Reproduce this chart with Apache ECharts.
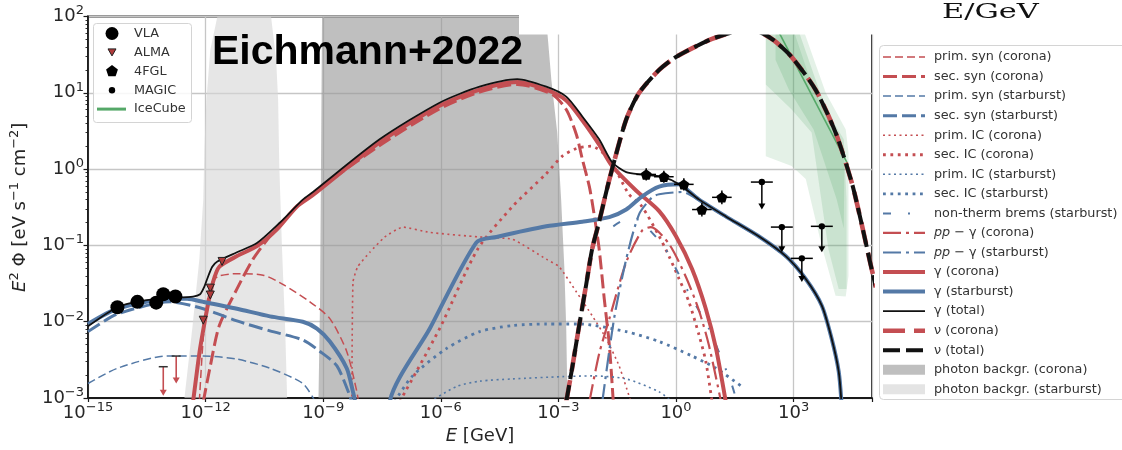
<!DOCTYPE html>
<html>
<head>
<meta charset="utf-8">
<script src="https://cdn.jsdelivr.net/npm/echarts@6/dist/echarts.min.js"></script>
<style>
  html, body { margin: 0; padding: 0; background: #fff; }
  #chart { width: 1122px; height: 450px; }
</style>
</head>
<body>
<div id="chart"></div>
<script>
// All curves are given as [log10(E / GeV), log10(E^2 Phi / eV s^-1 cm^-2)].

// --- corona ---
const primSynCorona = [[-12.16,-3.05],[-12.06,-2.22],[-11.93,-1.64],[-11.81,-1.46],[-11.65,-1.40],[-11.20,-1.37],[-10.53,-1.39],[-10.03,-1.51],[-9.34,-1.74],[-8.83,-1.96],[-8.40,-2.39],[-8.14,-2.92],[-8.10,-3.05]];
const secSynCorona = [[-12.06,-3.05],[-11.88,-2.58],[-11.65,-2.05],[-11.20,-1.57],[-10.79,-1.18],[-10.36,-0.88],[-9.92,-0.62],[-9.52,-0.42],[-7.56,0.31],[-6.03,0.79],[-5.01,1.01],[-4.05,1.11],[-3.16,0.98],[-2.80,0.78],[-2.54,0.45],[-2.39,0.13],[-2.21,-0.23],[-2.09,-0.59],[-1.96,-1.05],[-1.83,-1.70],[-1.70,-2.31],[-1.60,-3.05]];
const primICCorona = [[-8.27,-3.05],[-8.24,-1.48],[-8.12,-1.28],[-7.81,-1.09],[-7.43,-0.89],[-6.97,-0.76],[-6.28,-0.83],[-5.01,-0.89],[-4.17,-0.92],[-3.31,-1.18],[-2.98,-1.28],[-2.54,-1.61],[-2.14,-1.92],[-1.78,-2.22],[-1.45,-2.58],[-1.15,-3.05]];
const secICCorona = [[-7.05,-3.05],[-6.03,-2.09],[-5.06,-1.05],[-4.17,-0.49],[-3.31,-0.06],[-2.90,0.17],[-2.54,0.27],[-2.16,0.30],[-1.70,0.13],[-1.20,-0.33],[-0.87,-0.49],[-0.43,-0.88],[-0.18,-1.14],[0.08,-1.44],[0.33,-1.74],[0.59,-2.18],[0.76,-2.52],[0.92,-3.05]];
const ppGammaCorona = [[-2.21,-3.05],[-1.96,-2.42],[-1.70,-1.96],[-1.27,-1.22],[-0.87,-0.81],[-0.64,-0.76],[-0.18,-0.98],[0.25,-1.41],[0.59,-1.86],[0.84,-2.31],[1.15,-3.05]];
const gammaCorona = [[-12.32,-3.05],[-12.21,-2.61],[-12.14,-2.35],[-11.96,-1.83],[-11.81,-1.48],[-11.65,-1.28],[-11.20,-1.14],[-10.69,-1.01],[-10.18,-0.79],[-9.67,-0.49],[-9.26,-0.34],[-7.56,0.35],[-6.03,0.83],[-5.01,1.04],[-4.05,1.14],[-3.31,1.04],[-2.80,0.90],[-2.39,0.64],[-1.96,0.32],[-1.63,0.04],[-1.02,-0.28],[-0.43,-0.55],[0.00,-0.88],[0.41,-1.31],[0.76,-1.83],[1.02,-2.35],[1.27,-3.05]];
const nuCorona = [[-2.80,-3.05],[-2.65,-2.61],[-2.47,-2.05],[-2.29,-1.51],[-2.14,-1.05],[-1.96,-0.69],[-1.78,-0.30],[-1.63,0.00],[-1.27,0.65],[-0.94,1.00],[-0.43,1.30],[0.00,1.47],[0.84,1.69],[1.35,1.78],[1.73,1.82],[2.11,1.80],[2.49,1.69],[2.95,1.47],[3.56,1.04],[4.07,0.48],[4.48,-0.17],[4.71,-0.66],[4.96,-1.24],[5.10,-1.55]];

// --- starburst ---
const primSynStarburst = [[-15.00,-2.81],[-14.25,-2.61],[-12.98,-2.45],[-12.06,-2.45],[-11.20,-2.49],[-10.36,-2.61],[-9.52,-2.81],[-9.20,-3.05]];
const secSynStarburst = [[-15.00,-2.13],[-14.25,-1.90],[-12.90,-1.74],[-12.06,-1.83],[-11.20,-1.99],[-10.36,-2.12],[-9.52,-2.24],[-9.08,-2.39],[-8.65,-2.58],[-8.32,-2.97],[-8.28,-3.05]];
const primICStarburst = [[-6.28,-3.05],[-5.60,-2.85],[-5.01,-2.78],[-4.17,-2.75],[-2.90,-2.72],[-2.14,-2.71],[-1.27,-2.75],[-0.43,-2.92],[-0.10,-3.05]];
const secICStarburst = [[-7.18,-3.05],[-6.72,-2.71],[-5.85,-2.35],[-5.01,-2.13],[-4.17,-2.05],[-3.31,-2.03],[-2.47,-2.03],[-1.27,-2.13],[-0.43,-2.26],[0.41,-2.45],[1.02,-2.61],[1.68,-2.85]];
const bremsStarburst = [[-1.60,-0.75],[-1.27,-0.66],[-0.95,-0.66],[-0.69,-0.79],[-0.30,-1.02],[0.00,-1.31],[0.41,-1.70],[0.84,-2.09],[1.42,-2.82],[1.55,-3.05]];
const ppGammaStarburst = [[-1.88,-3.05],[-1.58,-1.96],[-1.27,-1.18],[-0.94,-0.59],[-0.61,-0.37],[-0.43,-0.33],[0.15,-0.30],[0.59,-0.41],[1.27,-0.63],[2.11,-0.89],[2.80,-1.15],[3.31,-1.45],[3.72,-1.80],[3.97,-2.23],[4.15,-2.66],[4.22,-3.05]];
const gammaStarburst = [[-15.00,-2.03],[-14.25,-1.83],[-12.90,-1.70],[-12.47,-1.70],[-12.06,-1.74],[-11.20,-1.83],[-10.36,-1.93],[-9.52,-2.00],[-9.16,-2.09],[-8.83,-2.26],[-8.40,-2.61],[-8.24,-2.92],[-8.19,-3.05],[-8.10,-4.50],[-7.40,-4.50],[-7.30,-3.05],[-6.28,-2.09],[-5.09,-0.96],[-4.58,-0.89],[-3.31,-0.75],[-2.39,-0.69],[-1.70,-0.63],[-1.27,-0.53],[-0.87,-0.36],[-0.43,-0.23],[0.08,-0.20],[0.33,-0.29],[0.59,-0.40],[1.27,-0.62],[2.11,-0.88],[2.80,-1.14],[3.31,-1.44],[3.72,-1.79],[3.97,-2.22],[4.15,-2.65],[4.22,-3.05]];

// --- totals ---
const gammaTotal = [[-15.00,-2.06],[-14.25,-1.81],[-13.66,-1.73],[-12.98,-1.69],[-12.32,-1.67],[-12.14,-1.64],[-12.04,-1.55],[-11.96,-1.44],[-11.83,-1.28],[-11.70,-1.21],[-11.20,-1.09],[-10.69,-0.97],[-10.10,-0.70],[-9.52,-0.40],[-9.26,-0.30],[-7.56,0.39],[-6.03,0.87],[-5.01,1.08],[-4.05,1.18],[-3.31,1.08],[-2.80,0.95],[-2.39,0.69],[-1.96,0.39],[-1.63,0.09],[-1.27,-0.04],[-0.87,-0.07],[-0.36,-0.10],[0.08,-0.20],[0.59,-0.40],[1.27,-0.62],[2.11,-0.88],[2.80,-1.14],[3.31,-1.44],[3.72,-1.79],[3.97,-2.22],[4.15,-2.65],[4.22,-3.05]];
const nuTotal = nuCorona;

// --- target photon fields (filled outlines) ---
const photonCorona = [[-9.12,-3.00],[-9.08,-1.70],[-9.03,2.00],[-3.36,2.00],[-3.28,1.78],[-3.18,1.17],[-3.03,0.48],[-2.93,-0.40],[-2.85,-1.27],[-2.80,-2.09],[-2.77,-3.00]];
const photonStarburst = [[-12.54,-3.00],[-12.34,-2.09],[-12.16,-1.18],[-12.06,-0.40],[-12.03,0.26],[-11.98,0.91],[-11.88,1.56],[-11.70,2.00],[-10.33,2.00],[-10.20,1.43],[-10.15,0.91],[-10.12,0.04],[-10.05,-1.05],[-9.97,-2.09],[-9.92,-3.00]];

// --- IceCube ---
const iceCubeOuter = [[2.29,2.00],[3.13,2.00],[3.82,1.00],[4.33,0.52],[4.40,0.22],[4.40,-1.40],[4.33,-1.67],[4.07,-1.66],[3.72,-1.01],[3.31,-0.13],[2.95,0.04],[2.29,0.17]];
const iceCubeMid = [[2.29,2.00],[2.88,2.00],[3.51,1.04],[4.28,0.39],[4.35,-0.40],[4.35,-1.57],[4.15,-1.57],[3.89,-1.05],[3.46,0.48],[2.95,0.78],[2.29,1.11]];
const iceCubeInner = [[2.54,2.00],[3.00,2.00],[3.69,0.98],[4.30,0.26],[4.28,-0.78],[4.10,-0.40],[3.51,0.52],[2.88,1.04],[2.54,1.43]];
const iceCubeFit = [[2.62,1.80],[4.40,0.05]];

// --- measurements ---
const vla = [[-14.25,-1.81],[-13.74,-1.74],[-13.26,-1.75],[-13.08,-1.64],[-12.77,-1.67]];
const alma = [[-12.06,-1.98],[-11.88,-1.56],[-11.88,-1.65],[-11.58,-1.21]];
const radioLimits = [[-13.08,-2.59,-2.97],[-12.75,-2.45,-2.81]];            // E, F, arrow tip
const fermi4FGL = [[-0.76,-0.07,-1.01,-0.51,-0.15,0.01],[-0.31,-0.10,-0.56,-0.06,-0.18,-0.02],[0.20,-0.20,-0.05,0.45,-0.28,-0.12],[0.66,-0.53,0.41,0.91,-0.62,-0.44],[1.17,-0.37,0.92,1.42,-0.46,-0.28]]; // E, F, Elo, Ehi, Flo, Fhi
const magicLimits = [[2.19,-0.17,1.91,2.47,-0.53],[2.70,-0.76,2.42,2.98,-1.09],[3.21,-1.17,2.93,3.49,-1.48],[3.72,-0.75,3.44,4.00,-1.09]]; // E, F, Elo, Ehi, arrow tip

// --- axis ticks ---
const xTickExps = [-15, -12, -9, -6, -3, 0, 3];
const yTickExps = [-3, -2, -1, 0, 1, 2];

const RED = '#c44e52', BLUE = '#5479a6', BLACK = '#111111', GREEN = '#55a868';
const TXT = '#262626', AXIS = '#1a1a1a', GRIDC = '#c6c6c6';
const FONT = '"DejaVu Sans", sans-serif';

const P = v => Math.pow(10, v);
const toXY = pts => pts.map(p => [P(p[0]), P(p[1])]);

// line styles shared by the curves and the legend keys
const ST = {
  primSyn:  { width: 1.5, dash: [8, 4] },
  secSyn:   { width: 3.0, dash: [14, 5] },
  primIC:   { width: 1.6, dash: [2, 3.5] },
  secIC:    { width: 2.8, dash: [2.8, 4.6] },
  brems:    { width: 2.0, dash: [8, 17, 2, 17] },
  pp:       { width: 2.2, dash: [18, 5, 3, 5] },
  gammaCS:  { width: 4.0, dash: null },
  gammaTot: { width: 1.8, dash: null },
  nuCor:    { width: 4.6, dash: [22, 9] },
  nuTot:    { width: 4.0, dash: [17, 6] }
};

function curve(name, pts, color, st, smooth) {
  return {
    type: 'line', name, data: toXY(pts), showSymbol: false, symbol: 'none',
    smooth: smooth === undefined ? 0.25 : smooth, silent: true, z: 3,
    lineStyle: { color, width: st.width, type: st.dash || 'solid', cap: 'butt', join: 'round' }
  };
}

function polygon(name, pts, fill, z) {
  return {
    type: 'custom', name, coordinateSystem: 'cartesian2d', clip: true, silent: true, z,
    data: [[1, 1]],
    renderItem: (params, api) => ({
      type: 'polygon',
      shape: { points: pts.map(p => api.coord([P(p[0]), P(p[1])])) },
      style: { fill, stroke: null }
    })
  };
}

const expLabel = e => '{b|10}{s|' + String(e).replace('-', '\u2212') + '}';
const labelRich = {
  b: { fontSize: 18, fontFamily: FONT, color: TXT, lineHeight: 24 },
  s: { fontSize: 13, fontFamily: FONT, color: TXT, lineHeight: 13, verticalAlign: 'top' }
};

const series = [
  polygon('photon backgr. (starburst)', photonStarburst, 'rgba(214,214,214,0.62)', 1),
  polygon('photon backgr. (corona)', photonCorona, 'rgba(152,152,152,0.62)', 1),
  polygon('IceCube outer', iceCubeOuter, 'rgba(85,168,104,0.16)', 1),
  polygon('IceCube mid', iceCubeMid, 'rgba(85,168,104,0.18)', 1),
  polygon('IceCube inner', iceCubeInner, 'rgba(85,168,104,0.2)', 1),
  curve('IceCube', iceCubeFit, GREEN, { width: 1.6, dash: null }, 0),

  curve('prim. syn (corona)', primSynCorona, RED, ST.primSyn),
  curve('sec. syn (corona)', secSynCorona, RED, ST.secSyn),
  curve('prim. syn (starburst)', primSynStarburst, BLUE, ST.primSyn),
  curve('sec. syn (starburst)', secSynStarburst, BLUE, ST.secSyn),
  curve('prim. IC (corona)', primICCorona, RED, ST.primIC, 0.15),
  curve('sec. IC (corona)', secICCorona, RED, ST.secIC),
  curve('prim. IC (starburst)', primICStarburst, BLUE, ST.primIC),
  curve('sec. IC (starburst)', secICStarburst, BLUE, ST.secIC),
  curve('non-therm brems (starburst)', bremsStarburst, BLUE, ST.brems),
  curve('pp − γ (corona)', ppGammaCorona, RED, ST.pp),
  curve('pp − γ (starburst)', ppGammaStarburst, BLUE, ST.pp),
  curve('γ (corona)', gammaCorona, RED, ST.gammaCS),
  curve('γ (starburst)', gammaStarburst, BLUE, ST.gammaCS),
  curve('γ (total)', gammaTotal, BLACK, ST.gammaTot),
  curve('ν (corona)', nuCorona, RED, ST.nuCor),
  curve('ν (total)', nuTotal, BLACK, ST.nuTot),

  // radio upper limits: black cap, red shaft and arrow head
  {
    type: 'custom', name: 'radio limits', coordinateSystem: 'cartesian2d', z: 6, silent: true,
    data: radioLimits.map(d => d.map(P)),
    renderItem: (params, api) => {
      const top = api.coord([api.value(0), api.value(1)]);
      const tip = api.coord([api.value(0), api.value(2)]);
      return { type: 'group', children: [
        { type: 'line', shape: { x1: top[0], y1: top[1], x2: tip[0], y2: tip[1] - 4 }, style: { stroke: RED, lineWidth: 1.6 } },
        { type: 'polygon', shape: { points: [[tip[0] - 3.5, tip[1] - 6], [tip[0] + 3.5, tip[1] - 6], [tip[0], tip[1]]] }, style: { fill: RED } },
        { type: 'line', shape: { x1: top[0] - 4.5, y1: top[1], x2: top[0] + 4.5, y2: top[1] }, style: { stroke: '#333', lineWidth: 1.5 } }
      ] };
    }
  },
  {
    type: 'scatter', name: 'VLA', data: toXY(vla), symbol: 'circle', symbolSize: 14, z: 6, silent: true,
    itemStyle: { color: '#000', opacity: 1 }
  },
  {
    type: 'scatter', name: 'ALMA', data: toXY(alma), symbol: 'triangle', symbolRotate: 180, symbolSize: 8, z: 6, silent: true,
    itemStyle: { color: '#b03a3a', borderColor: '#222', borderWidth: 1, opacity: 1 }
  },
  // 4FGL error bars
  {
    type: 'custom', name: '4FGL bars', coordinateSystem: 'cartesian2d', z: 6, silent: true,
    data: fermi4FGL.map(d => d.map(P)),
    renderItem: (params, api) => {
      const l = api.coord([api.value(2), api.value(1)]);
      const r = api.coord([api.value(3), api.value(1)]);
      const lo = api.coord([api.value(0), api.value(4)]);
      const hi = api.coord([api.value(0), api.value(5)]);
      return { type: 'group', children: [
        { type: 'line', shape: { x1: l[0], y1: l[1], x2: r[0], y2: r[1] }, style: { stroke: '#000', lineWidth: 1.5 } },
        { type: 'line', shape: { x1: lo[0], y1: lo[1], x2: hi[0], y2: hi[1] }, style: { stroke: '#000', lineWidth: 1.5 } }
      ] };
    }
  },
  {
    type: 'scatter', name: '4FGL', data: toXY(fermi4FGL.map(d => [d[0], d[1]])), z: 7, silent: true,
    symbol: 'path://M0,-10 L9.51,-3.09 L5.88,8.09 L-5.88,8.09 L-9.51,-3.09 Z', symbolKeepAspect: true, symbolSize: 11,
    itemStyle: { color: '#000', opacity: 1 }
  },
  // MAGIC upper limits
  {
    type: 'custom', name: 'MAGIC', coordinateSystem: 'cartesian2d', z: 6, silent: true,
    data: magicLimits.map(d => d.map(P)),
    renderItem: (params, api) => {
      const c = api.coord([api.value(0), api.value(1)]);
      const l = api.coord([api.value(2), api.value(1)]);
      const r = api.coord([api.value(3), api.value(1)]);
      const tip = api.coord([api.value(0), api.value(4)]);
      return { type: 'group', children: [
        { type: 'line', shape: { x1: l[0], y1: l[1], x2: r[0], y2: r[1] }, style: { stroke: '#000', lineWidth: 1.5 } },
        { type: 'line', shape: { x1: c[0], y1: c[1], x2: tip[0], y2: tip[1] - 4 }, style: { stroke: '#000', lineWidth: 1.5 } },
        { type: 'polygon', shape: { points: [[tip[0] - 3.5, tip[1] - 6], [tip[0] + 3.5, tip[1] - 6], [tip[0], tip[1]]] }, style: { fill: '#000' } },
        { type: 'circle', shape: { cx: c[0], cy: c[1], r: 3.2 }, style: { fill: '#000' } }
      ] };
    }
  }
];

// legend keys (right box): label, colour, style
const legendRows = [
  ['prim. syn (corona)', RED, ST.primSyn],
  ['sec. syn (corona)', RED, ST.secSyn],
  ['prim. syn (starburst)', BLUE, ST.primSyn],
  ['sec. syn (starburst)', BLUE, ST.secSyn],
  ['prim. IC (corona)', RED, ST.primIC],
  ['sec. IC (corona)', RED, ST.secIC],
  ['prim. IC (starburst)', BLUE, ST.primIC],
  ['sec. IC (starburst)', BLUE, ST.secIC],
  ['non-therm brems (starburst)', BLUE, ST.brems],
  ['{i|pp} \u2212 \u03b3 (corona)', RED, ST.pp],
  ['{i|pp} \u2212 \u03b3 (starburst)', BLUE, ST.pp],
  ['\u03b3 (corona)', RED, ST.gammaCS],
  ['\u03b3 (starburst)', BLUE, ST.gammaCS],
  ['\u03b3 (total)', BLACK, ST.gammaTot],
  ['\u03bd (corona)', RED, ST.nuCor],
  ['\u03bd (total)', BLACK, ST.nuTot],
  ['photon backgr. (corona)', '#bfbfbf', 'patch'],
  ['photon backgr. (starburst)', '#e4e4e4', 'patch']
];

const LEG_FONT = '12.8px ' + FONT;
const graphics = [];
// right legend frame
graphics.push({ type: 'rect', z: 50, shape: { x: 879.5, y: 45.5, width: 260, height: 354, r: 4 },
  style: { fill: 'rgba(255,255,255,0.85)', stroke: '#d4d4d4', lineWidth: 1 } });
legendRows.forEach((row, i) => {
  const y = 57 + i * 19.55;
  const [label, color, st] = row;
  if (st === 'patch') {
    graphics.push({ type: 'rect', z: 51, shape: { x: 883, y: y - 5, width: 42, height: 10 }, style: { fill: color } });
  } else {
    graphics.push({ type: 'line', z: 51, shape: { x1: 883, y1: y, x2: 925, y2: y },
      style: { stroke: color, lineWidth: st.width, lineDash: st.dash || null, lineCap: 'butt' } });
  }
  graphics.push({ type: 'text', z: 51, x: 934, y: y,
    style: { text: label, font: LEG_FONT, fill: '#333', verticalAlign: 'middle', textVerticalAlign: 'middle',
      rich: { i: { fontStyle: 'italic', fontSize: 12.8, fontFamily: 'DejaVu Sans', fill: '#333' } } } });
});

// left (measurement) legend
graphics.push({ type: 'rect', z: 50, shape: { x: 93.5, y: 23.5, width: 98, height: 99, r: 3 },
  style: { fill: 'rgba(255,255,255,0.85)', stroke: '#d4d4d4', lineWidth: 1 } });
const measRows = ['VLA', 'ALMA', '4FGL', 'MAGIC', 'IceCube'];
measRows.forEach((label, i) => {
  const y = 33.5 + i * 18.9;
  const cx = 112;
  if (label === 'VLA') graphics.push({ type: 'circle', z: 51, shape: { cx, cy: y, r: 6.5 }, style: { fill: '#000' } });
  if (label === 'ALMA') graphics.push({ type: 'polygon', z: 51, shape: { points: [[cx - 4, y - 3.5], [cx + 4, y - 3.5], [cx, y + 3.5]] }, style: { fill: '#b03a3a', stroke: '#222', lineWidth: 1 } });
  if (label === '4FGL') {
    const pts = [];
    for (let k = 0; k < 5; k++) { const a = -Math.PI / 2 + k * 2 * Math.PI / 5; pts.push([cx + 6.2 * Math.cos(a), y + 6.2 * Math.sin(a)]); }
    graphics.push({ type: 'polygon', z: 51, shape: { points: pts }, style: { fill: '#000' } });
  }
  if (label === 'MAGIC') graphics.push({ type: 'circle', z: 51, shape: { cx, cy: y, r: 3.2 }, style: { fill: '#000' } });
  if (label === 'IceCube') graphics.push({ type: 'line', z: 51, shape: { x1: 97, y1: y, x2: 126, y2: y }, style: { stroke: GREEN, lineWidth: 3 } });
  graphics.push({ type: 'text', z: 51, x: 134, y,
    style: { text: label, font: LEG_FONT, fill: '#333', verticalAlign: 'middle', textVerticalAlign: 'middle' } });
});

// blank strip along the top right, the unit caption and the title
graphics.push({ type: 'rect', z: 100, shape: { x: 519, y: 0, width: 603, height: 34.5 }, style: { fill: '#fff' } });
graphics.push({ type: 'text', z: 101, x: 942, y: 13, scaleX: 1.45, scaleY: 1,
  style: { text: 'E/GeV', font: '21px "DejaVu Serif", serif', fill: '#111', verticalAlign: 'middle', textVerticalAlign: 'middle' } });
graphics.push({ type: 'text', z: 101, x: 212, y: 53,
  style: { text: 'Eichmann+2022', font: 'bold 41px "Liberation Sans", Arial, sans-serif', fill: '#000', verticalAlign: 'middle', textVerticalAlign: 'middle' } });

// minor ticks of the flux axis
const yMinor = [];
for (let e = -3; e < 2; e++) for (let m = 2; m <= 9; m++) yMinor.push(m * Math.pow(10, e));

const option = {
  animation: false,
  backgroundColor: '#fff',
  grid: { left: 86, right: 250, top: 16.5, bottom: 50.5, show: true, borderColor: AXIS, borderWidth: 1.8, backgroundColor: 'transparent' },
  xAxis: [{
    type: 'log', logBase: 10, min: P(-15), max: P(5), interval: 3,
    axisLine: { show: true, lineStyle: { color: AXIS, width: 1.8 } },
    axisTick: { show: true, length: 4, lineStyle: { color: AXIS, width: 1.2 } },
    axisLabel: {
      margin: 3,
      formatter: v => { const e = Math.round(Math.log10(v)); return xTickExps.includes(e) ? expLabel(e) : ''; },
      rich: labelRich
    },
    splitLine: { show: true, lineStyle: { color: GRIDC, width: 1.3 } },
    name: '{i|E} [GeV]', nameLocation: 'middle', nameGap: 29,
    nameTextStyle: { fontSize: 18, fontFamily: FONT, color: TXT, rich: { i: { fontStyle: 'italic', fontSize: 18, fontFamily: FONT, color: TXT } } }
  }],
  yAxis: [{
    type: 'log', logBase: 10, min: P(-3), max: P(2), interval: 1,
    axisLine: { show: true, lineStyle: { color: AXIS, width: 1.8 } },
    axisTick: { show: true, length: 4.5, lineStyle: { color: AXIS, width: 1.2 } },
    axisLabel: {
      margin: 4,
      formatter: v => { const e = Math.round(Math.log10(v)); return yTickExps.includes(e) ? expLabel(e) : ''; },
      rich: labelRich
    },
    splitLine: { show: true, lineStyle: { color: GRIDC, width: 1.3 } },
    name: '{i|E}{s|2} \u03a6 [eV s{s|\u22121} cm{s|\u22122}]', nameLocation: 'middle', nameGap: 56, nameRotate: 90,
    nameTextStyle: { fontSize: 18, fontFamily: FONT, color: TXT,
      rich: {
        i: { fontStyle: 'italic', fontSize: 18, fontFamily: FONT, color: TXT, lineHeight: 24 },
        s: { fontSize: 13, fontFamily: FONT, color: TXT, lineHeight: 13, verticalAlign: 'top' }
      } }
  }, {
    type: 'log', logBase: 10, min: P(-3), max: P(2), position: 'left', offset: 0,
    axisLine: { show: false }, axisLabel: { show: false }, splitLine: { show: false },
    axisTick: { show: true, length: 2.5, customValues: yMinor, lineStyle: { color: AXIS, width: 0.9 } }
  }],
  series,
  graphic: graphics
};

const chart = echarts.init(document.getElementById('chart'), null, { renderer: 'canvas' });
chart.setOption(option);
</script>
</body>
</html>
